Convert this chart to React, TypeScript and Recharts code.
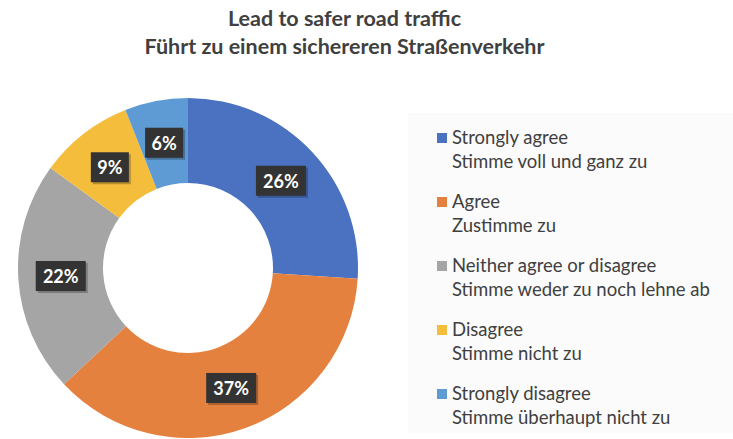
import { PieChart, Pie, Cell, Legend } from "recharts";

const categories = [
  "Strongly agree",
  "Agree",
  "Neither agree or disagree",
  "Disagree",
  "Strongly disagree",
];
const categoriesDe = [
  "Stimme voll und ganz zu",
  "Zustimme zu",
  "Stimme weder zu noch lehne ab",
  "Stimme nicht zu",
  "Stimme überhaupt nicht zu",
];
const shares = [26, 37, 22, 9, 6];
const colors = ["#4A72C1", "#E5813F", "#A5A5A5", "#F5BD3C", "#5E9AD3"];

const data = categories.map((name, i) => ({ name, de: categoriesDe[i], value: shares[i] }));

const FONT = "Lato, 'Open Sans', sans-serif";
const RAD = Math.PI / 180;

function renderLabel(p: any) {
  const r = (p.innerRadius + p.outerRadius) / 2;
  const x = p.cx + r * Math.cos(-p.midAngle * RAD);
  const y = p.cy + r * Math.sin(-p.midAngle * RAD);
  const text = `${p.value}%`;
  const w = text.length * 12 + 14;
  return (
    <g>
      <rect x={x - w / 2 + 2} y={y - 13} width={w} height={30} fill="#000" opacity={0.25} />
      <rect x={x - w / 2} y={y - 15} width={w} height={30} fill="#333333" />
      <text x={x} y={y} textAnchor="middle" dominantBaseline="central" fill="#fff"
        fontSize={18} fontWeight={700} fontFamily={FONT}>
        {text}
      </text>
    </g>
  );
}

function LegendBox() {
  return (
    <div style={{ background: "#FBFBFB", width: 325, height: 320, paddingTop: 12, boxSizing: "border-box", fontFamily: FONT, color: "#404040" }}>
      {data.map((d, i) => (
        <div key={d.name} style={{ position: "relative", paddingLeft: 44, height: 64, fontSize: 18.5, lineHeight: "24px" }}>
          <span style={{ position: "absolute", left: 29, top: 8, width: 10, height: 10, background: colors[i] }} />
          <div>{d.name}</div>
          <div>{d.de}</div>
        </div>
      ))}
    </div>
  );
}

export default function App() {
  return (
    <div style={{ position: "absolute", left: 0, top: 0, width: 733, height: 439, background: "#fff" }}>
      <div style={{ position: "absolute", left: 0, top: 4, width: 689, textAlign: "center", fontFamily: FONT, fontWeight: 700, fontSize: 21.5, lineHeight: "28px", color: "#404040" }}>
        <div>Lead to safer road traffic</div>
        <div>Führt zu einem sichereren Straßenverkehr</div>
      </div>
      <PieChart width={733} height={439} margin={{ top: 0, right: 0, bottom: 0, left: 0 }}>
        <Pie
          data={data}
          dataKey="value"
          nameKey="name"
          cx={188}
          cy={268}
          innerRadius={85}
          outerRadius={170}
          startAngle={90}
          endAngle={-270}
          stroke="none"
          label={renderLabel}
          labelLine={false}
          isAnimationActive={false}
        >
          {data.map((d, i) => (
            <Cell key={d.name} fill={colors[i]} />
          ))}
        </Pie>
        <Legend
          content={() => <LegendBox />}
          wrapperStyle={{ left: 408, top: 113, width: 325 }}
        />
      </PieChart>
    </div>
  );
}
